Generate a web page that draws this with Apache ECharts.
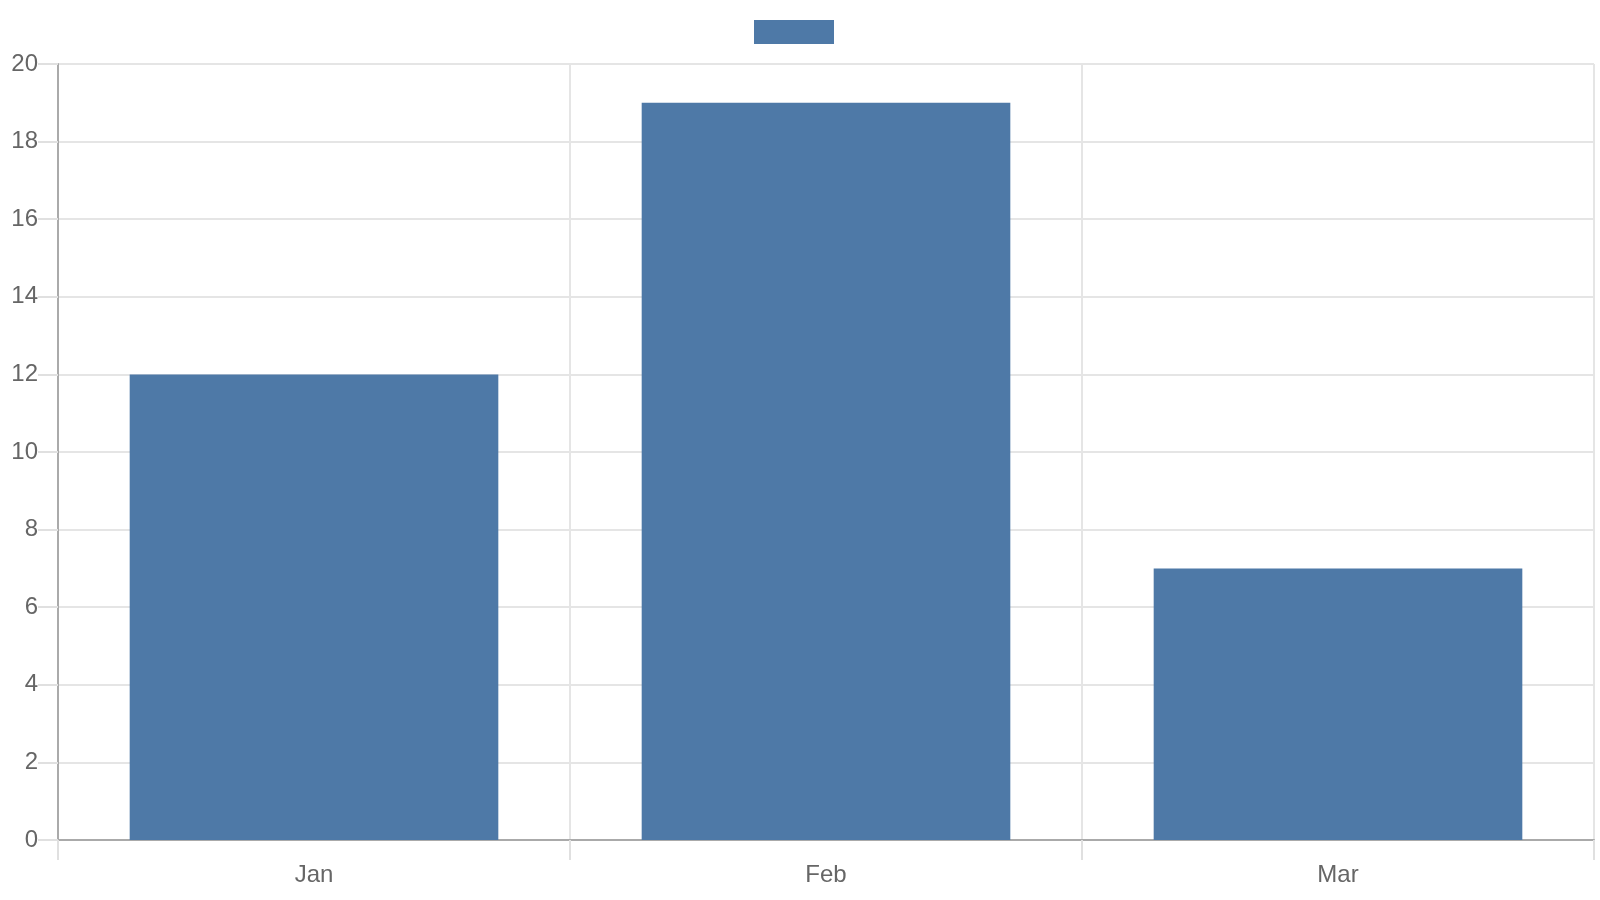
<!DOCTYPE html>
<html>
<head>
<meta charset="utf-8">
<script src="https://cdn.jsdelivr.net/npm/echarts@6/dist/echarts.min.js"></script>
<style>
html,body{margin:0;padding:0;background:#fff;}
#chart{width:1600px;height:900px;}
</style>
</head>
<body>
<div id="chart"></div>
<script>
var months = ['Jan', 'Feb', 'Mar'];
var values = [12, 19, 7];
var yTicks = [0, 20, 2]; // min, max, step

var chart = echarts.init(document.getElementById('chart'));

var option = {
    animation: false,
    textStyle: {fontFamily: 'Liberation Sans, Arial, sans-serif'},
    legend: {
        left: 749,
        top: 15,
        itemWidth: 80,
        itemHeight: 24,
        itemGap: 0,
        icon: 'rect',
        data: [' '],
        textStyle: {fontSize: 24, color: '#666'}
    },
    grid: {
        left: 58,
        right: 6,
        top: 64,
        bottom: 60,
        containLabel: false
    },
    xAxis: {
        type: 'category',
        data: months,
        boundaryGap: true,
        axisLine: {lineStyle: {color: '#aaaaaa', width: 2}},
        axisTick: {show: true, length: 20, lineStyle: {color: '#e0e0e0', width: 2}},
        axisLabel: {color: '#666', fontSize: 24, margin: 23},
        splitLine: {show: true, lineStyle: {color: '#e5e5e5', width: 2}}
    },
    yAxis: {
        type: 'value',
        min: yTicks[0],
        max: yTicks[1],
        interval: yTicks[2],
        axisLine: {show: true, lineStyle: {color: '#aaaaaa', width: 2}},
        axisTick: {show: true, length: 20, lineStyle: {color: '#e0e0e0', width: 2}},
        axisLabel: {color: '#666', fontSize: 24, margin: 20},
        splitLine: {show: true, lineStyle: {color: '#e5e5e5', width: 2}}
    },
    series: [{
        name: ' ',
        type: 'bar',
        data: values,
        barWidth: '72%',
        itemStyle: {color: '#4e79a7'}
    }]
};

chart.setOption(option);
</script>
</body>
</html>
